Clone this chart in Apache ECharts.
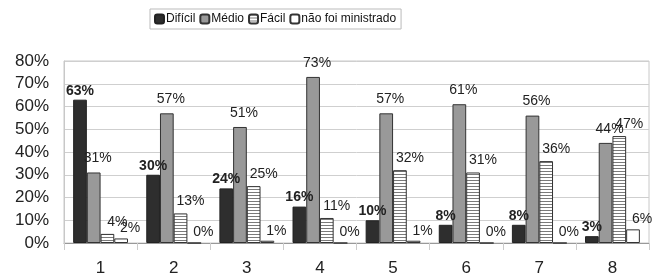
<!DOCTYPE html>
<html>
<head>
<meta charset="utf-8">
<script src="https://cdn.jsdelivr.net/npm/echarts@6/dist/echarts.min.js"></script>
<style>
    html, body { margin: 0; padding: 0; background: #fff; }
    #chart { width: 652px; height: 277px; }
</style>
</head>
<body>
<div id="chart"></div>
<script>
// dados do gráfico
let categorias = ['1', '2', '3', '4', '5', '6', '7', '8'];
let dificil = [63, 30, 24, 16, 10, 8, 8, 3];
let medio = [31, 57, 51, 73, 57, 61, 56, 44];
let facil = [4, 13, 25, 11, 32, 31, 36, 47];
let naoMinistrado = [2, 0, 1, 0, 1, 0, 0, 6];
let nomes = ['Difícil', 'Médio', 'Fácil', 'não foi ministrado'];
let ticksY = [0, 80, 10]; // min, max, intervalo

let fonte = '"Liberation Sans", Arial, sans-serif';
let chart = echarts.init(document.getElementById('chart'));

// listras horizontais para "Fácil"
let listra = document.createElement('canvas');
listra.width = 4;
listra.height = 3;
let ctx = listra.getContext('2d');
ctx.fillStyle = '#fff';
ctx.fillRect(0, 0, 4, 3);
ctx.fillStyle = '#7a7a7a';
ctx.fillRect(0, 0, 4, 1);

function rotulo(extra) {
    return Object.assign({
        show: true,
        position: 'top',
        formatter: '{c}%',
        fontFamily: fonte,
        fontSize: 14,
        color: '#222'
    }, extra);
}

let option = {
    animation: false,
    legend: {
        data: nomes,
        left: 150,
        top: 9,
        itemWidth: 9,
        itemHeight: 9,
        itemGap: 4,
        padding: [4, 5, 4, 4],
        borderColor: '#bbb',
        borderWidth: 1,
        textStyle: { fontFamily: fonte, fontSize: 12, color: '#111', padding: [0, 0, 0, -3] }
    },
    grid: {
        left: 64,
        right: 3,
        top: 61,
        bottom: 34,
        show: true,
        borderColor: '#c8c8c8',
        borderWidth: 1
    },
    xAxis: {
        type: 'category',
        data: categorias,
        axisLine: { lineStyle: { color: '#999' } },
        axisTick: { show: true, length: 7, lineStyle: { color: '#ccc' } },
        axisLabel: { fontFamily: fonte, fontSize: 17, color: '#222', margin: 17 }
    },
    yAxis: {
        type: 'value',
        min: ticksY[0],
        max: ticksY[1],
        interval: ticksY[2],
        axisLine: { show: true, lineStyle: { color: '#c8c8c8' } },
        axisTick: { show: false },
        splitLine: { lineStyle: { color: '#cfcfcf' } },
        axisLabel: { formatter: '{value}%', fontFamily: fonte, fontSize: 17, color: '#222', margin: 15 }
    },
    series: [
        {
            name: nomes[0],
            type: 'bar',
            data: dificil,
            barGap: 0,
            barCategoryGap: '25%',
            itemStyle: { color: '#2e2e2e', borderColor: '#222', borderWidth: 1 },
            label: rotulo({ fontWeight: 'bold', distance: 2 })
        },
        {
            name: nomes[1],
            type: 'bar',
            data: medio,
            itemStyle: { color: '#999', borderColor: '#333', borderWidth: 1 },
            label: rotulo({ distance: 7, offset: [4, 0] })
        },
        {
            name: nomes[2],
            type: 'bar',
            data: facil,
            itemStyle: {
                color: { image: listra, repeat: 'repeat' },
                borderColor: '#333',
                borderWidth: 1
            },
            label: rotulo({ distance: 5, offset: [10, 0] })
        },
        {
            name: nomes[3],
            type: 'bar',
            data: naoMinistrado,
            itemStyle: { color: '#fff', borderColor: '#333', borderWidth: 1 },
            label: rotulo({ distance: 3, offset: [9, 0] })
        }
    ]
};
chart.setOption(option);
</script>
</body>
</html>
